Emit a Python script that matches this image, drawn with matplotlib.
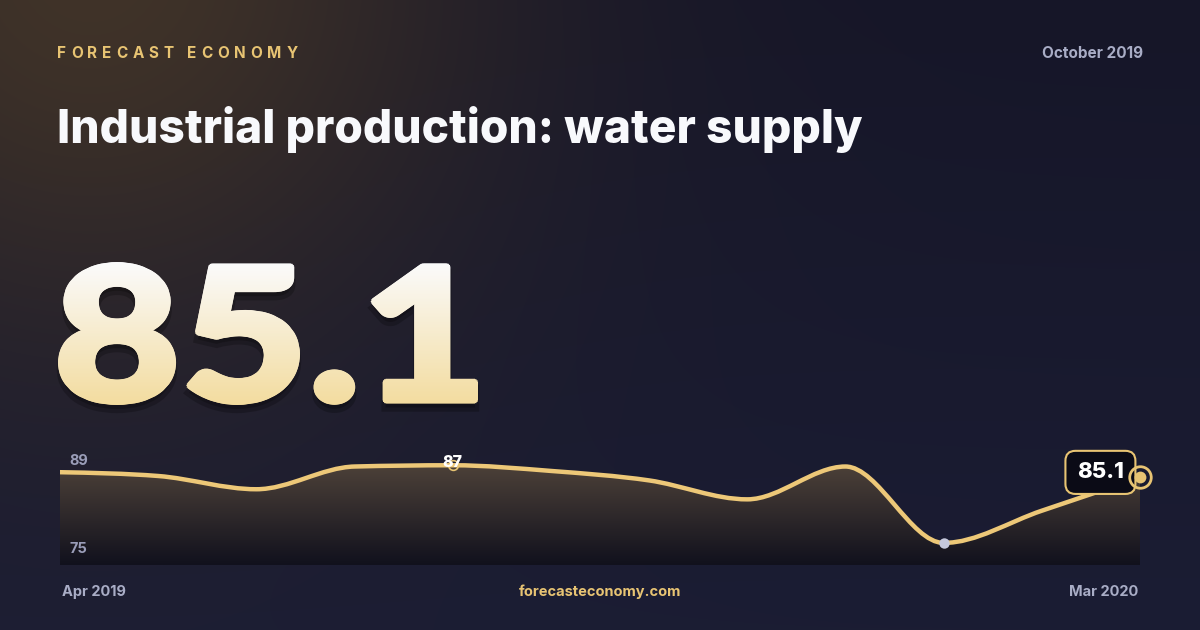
import numpy as np
import matplotlib
matplotlib.use('Agg')
import matplotlib.pyplot as plt
from matplotlib.path import Path
from matplotlib.patches import PathPatch
from matplotlib.textpath import TextPath
from matplotlib.font_manager import FontProperties
from matplotlib.transforms import Affine2D

# Data
months = ['Apr 2019', 'May 2019', 'Jun 2019', 'Jul 2019', 'Aug 2019', 'Sep 2019',
          'Oct 2019', 'Nov 2019', 'Dec 2019', 'Jan 2020', 'Feb 2020', 'Mar 2020']
values = [85.9, 85.3, 83.2, 86.8, 87.0, 86.1, 84.6, 81.6, 86.8, 74.7, 79.8, 85.1]
y_labels = [89, 75]

brand = 'FORECAST ECONOMY'
title = 'Industrial production: water supply'
period = 'October 2019'
headline = '85.1'
site = 'forecasteconomy.com'

GOLD = '#e8c473'
GREY = '#a9adc6'
W, H = 1200, 630

def monotone_path(x, y):
    '''Cubic bezier path through points, monotone in y (like d3 curveMonotoneX)'''
    x = np.asarray(x, float)
    y = np.asarray(y, float)
    n = len(x)
    h = np.diff(x)
    s = np.diff(y) / h
    t = np.zeros(n)
    for i in range(1, n - 1):
        p = (s[i-1] * h[i] + s[i] * h[i-1]) / (h[i-1] + h[i])
        t[i] = (np.sign(s[i-1]) + np.sign(s[i])) * min(abs(s[i-1]), abs(s[i]), 0.5 * abs(p))
    t[0] = (3 * s[0] - t[1]) / 2
    t[-1] = (3 * s[-1] - t[-2]) / 2
    verts = [(x[0], y[0])]
    codes = [Path.MOVETO]
    for i in range(n - 1):
        dx = h[i] / 3
        verts += [(x[i] + dx, y[i] + dx * t[i]),
                  (x[i+1] - dx, y[i+1] - dx * t[i+1]),
                  (x[i+1], y[i+1])]
        codes += [Path.CURVE4] * 3
    return verts, codes

fig = plt.figure(figsize=(12, 6.3), dpi=100)

# Background with warm glow top-left
bg = fig.add_axes([0, 0, 1, 1], zorder=0)
yy, xx = np.mgrid[0:H, 0:W].astype(float)
base = np.array([22, 22, 40]) + (yy / H)[..., None] * np.array([5, 7, 12])
glow = np.exp(-((xx - 90) ** 2 + (yy + 40) ** 2) / (2 * 280.0 ** 2))[..., None]
warm = np.array([64, 51, 40])
img = base * (1 - glow) + warm * glow
bg.imshow(img / 255, extent=(0, W, H, 0), aspect='auto', interpolation='bilinear')
bg.set_xlim(0, W)
bg.set_ylim(H, 0)
bg.axis('off')

# Chart area
ax = fig.add_axes([60 / W, 65 / H, 1080 / W, 113 / H], zorder=2)
ax.patch.set_alpha(0)
x = np.arange(len(values))
ymin, ymax = 71.2, 89.1
ax.set_xlim(0, len(values) - 1)
ax.set_ylim(ymin, ymax)
ax.axis('off')

verts, codes = monotone_path(x, values)
fill_verts = verts + [(x[-1], ymin), (x[0], ymin), (x[0], values[0])]
fill_codes = codes + [Path.LINETO, Path.LINETO, Path.CLOSEPOLY]
fill_patch = PathPatch(Path(fill_verts, fill_codes), facecolor='none', edgecolor='none')
ax.add_patch(fill_patch)

grad = np.linspace(0, 1, 256)[:, None]
top_c = np.array([84, 71, 60]) / 255
bot_c = np.array([17, 17, 29]) / 255
grad_img = top_c * (1 - grad[..., None]) + bot_c * grad[..., None]
grad_img = np.repeat(grad_img, 2, axis=1)
gi = ax.imshow(grad_img, extent=(x[0], x[-1], ymin, ymax), aspect='auto',
               interpolation='bilinear', zorder=1)
gi.set_clip_path(fill_patch)

line = PathPatch(Path(verts, codes), facecolor='none', edgecolor='#edc878', lw=3.2,
                 zorder=3, capstyle='round', joinstyle='round')
ax.add_patch(line)

fam = ['Inter', 'DejaVu Sans']

# y range labels
for v in y_labels:
    ax.annotate(str(v), xy=(0, v), xytext=(7, -1), textcoords='offset points',
                ha='left', va='top', color='#9a9db8', fontsize=10.5,
                fontweight='bold', family=fam, zorder=4)

# max marker
imax = int(np.argmax(values))
ax.plot(x[imax], values[imax], 'o', ms=7, mfc='none', mec=GOLD, mew=1.2,
        zorder=5, clip_on=False)
ax.annotate(f'{values[imax]:g}', xy=(x[imax], values[imax]), xytext=(0, 2),
            textcoords='offset points', ha='center', va='center', color='white',
            fontsize=11.5, fontweight='heavy', family=fam, zorder=6)

# min marker
imin = int(np.argmin(values))
ax.plot(x[imin], values[imin], 'o', ms=7.5, mfc='#c5c8dc', mec='none',
        zorder=5, clip_on=False)

# latest value box and marker
ax.annotate(f'{values[-1]:g}', xy=(x[-1], values[-1]), xytext=(-28.5, 3.5),
            textcoords='offset points', ha='center', va='center', color='white',
            fontsize=16, fontweight='heavy', family=fam, zorder=6,
            bbox=dict(boxstyle='round,pad=0.52,rounding_size=0.45', fc='#0b0b16',
                      ec=GOLD, lw=1.5))
ax.plot(x[-1], values[-1], 'o', ms=15.5, mfc='none', mec=GOLD, mew=2,
        zorder=7, clip_on=False)
ax.plot(x[-1], values[-1], 'o', ms=8.5, mfc=GOLD, mec='none', zorder=8, clip_on=False)

# Overlay in pixel coordinates for texts
ov = fig.add_axes([0, 0, 1, 1], zorder=3)
ov.set_xlim(0, W)
ov.set_ylim(H, 0)
ov.axis('off')
ov.patch.set_alpha(0)

# letter-spaced brand name
renderer = fig.canvas.get_renderer()
cx = 57
for ch in brand:
    t = ov.text(cx, 53, ch, color=GOLD, fontsize=11, fontweight='bold', family=fam,
                ha='left', va='center')
    wpx = t.get_window_extent(renderer).width if ch != ' ' else 4
    cx += wpx + 4.8

ov.text(1143, 54, period, color=GREY, fontsize=11, fontweight='bold', family=fam,
        ha='right', va='center')
ov.text(57, 143, title, color='#f8f9fc', fontsize=33.2, fontweight='heavy', family=fam,
        ha='left', va='baseline')

# Big headline number with vertical gradient, fitted to its box
fp = FontProperties(family=['Lato', 'DejaVu Sans'], weight='black')
tp = TextPath((0, 0), headline, size=100, prop=fp)
ext = tp.get_extents()
r = 3.0  # thickening radius in px
x0, x1, top, base_y = 58 + r, 478 - r, 262 + r, 405 - r
sx = (x1 - x0) / ext.width
sy = (base_y - top) / ext.height
tr = Affine2D().translate(-ext.x0, -ext.y0).scale(sx, -sy).translate(x0, base_y)
num_path = tr.transform_path(tp)
shadow = PathPatch(Affine2D().translate(0, 7).transform_path(num_path),
                   fc='black', ec='black', lw=2 * r, alpha=0.22, zorder=1)
ov.add_patch(shadow)

g = np.linspace(0, 1, 256)[:, None]
c_top = np.array([251, 251, 252]) / 255
c_bot = np.array([243, 220, 159]) / 255
ng = c_top * (1 - g[..., None]) + c_bot * g[..., None]
ng = np.repeat(ng, 2, axis=1)
for ang in np.linspace(0, 2 * np.pi, 12, endpoint=False):
    shifted = Affine2D().translate(r * np.cos(ang), r * np.sin(ang)).transform_path(num_path)
    clip = PathPatch(shifted, fc='none', ec='none')
    ov.add_patch(clip)
    nimg = ov.imshow(ng, extent=(58, 478, 405, 262), aspect='auto',
                     interpolation='bilinear', zorder=2)
    nimg.set_clip_path(clip)
ov.set_xlim(0, W)
ov.set_ylim(H, 0)

# footer
ov.text(62, 592, months[0], color=GREY, fontsize=10.5, fontweight='bold', family=fam,
        ha='left', va='center')
ov.text(1138, 592, months[-1], color=GREY, fontsize=10.5, fontweight='bold', family=fam,
        ha='right', va='center')
ov.text(600, 592, site, color=GOLD, fontsize=10.5, fontweight='bold', family=fam,
        ha='center', va='center')

fig.savefig('out.png', dpi=100)
